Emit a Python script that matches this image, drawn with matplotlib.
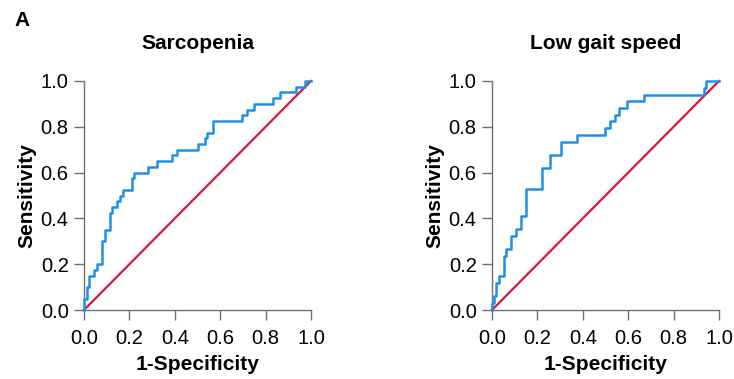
import matplotlib.pyplot as plt

plt.rcParams['font.family'] = ['Liberation Sans', 'DejaVu Sans']

# ROC - Sarcopenia
fpr_sarc = [0, 0.0, 0.012, 0.024, 0.046, 0.056, 0.079, 0.091, 0.115, 0.125, 0.147,
            0.159, 0.171, 0.210, 0.221, 0.284, 0.321, 0.387, 0.409, 0.5, 0.531,
            0.544, 0.568, 0.696, 0.718, 0.751, 0.832, 0.865, 0.932, 0.972, 1.0]
tpr_sarc = [0, 0.05, 0.1, 0.15, 0.175, 0.2, 0.3, 0.35, 0.425, 0.45, 0.475,
            0.5, 0.525, 0.575, 0.6, 0.625, 0.65, 0.675, 0.7, 0.725, 0.75,
            0.775, 0.825, 0.85, 0.875, 0.9, 0.925, 0.95, 0.975, 1.0, 1.0]

# ROC - Low gait speed
fpr_gait = [0, 0.0, 0.007, 0.018, 0.029, 0.051, 0.060, 0.084, 0.104, 0.126, 0.148,
            0.222, 0.254, 0.306, 0.373, 0.498, 0.520, 0.540, 0.561, 0.595, 0.670,
            0.932, 0.943, 1.0]
tpr_gait = [0, 0.029, 0.059, 0.118, 0.147, 0.235, 0.265, 0.324, 0.353, 0.412, 0.529,
            0.618, 0.676, 0.735, 0.765, 0.794, 0.824, 0.853, 0.882, 0.912, 0.941,
            0.971, 1.0, 1.0]

titulos = ["Sarcopenia", "Low gait speed"]
ticks = [0.0, 0.2, 0.4, 0.6, 0.8, 1.0]

fig = plt.figure(figsize=(7.34, 3.79), dpi=100)
ax1 = fig.add_axes([84 / 734, 69 / 379, 227 / 734, 229 / 379])
ax2 = fig.add_axes([492 / 734, 69 / 379, 227 / 734, 229 / 379])

curvas = [(fpr_sarc, tpr_sarc), (fpr_gait, tpr_gait)]

for ax, (fx, fy), titulo in zip([ax1, ax2], curvas, titulos):
    ax.plot([0, 1], [0, 1], color="#dc143c", linewidth=1.6, clip_on=False, zorder=2)
    ax.step(fx, fy, where="post", color="#1e90e8", linewidth=1.8, clip_on=False, zorder=3)
    ax.set_xlim(0, 1)
    ax.set_ylim(0, 1)
    ax.set_xticks(ticks)
    ax.set_yticks(ticks)
    ax.set_xticklabels(["%.1f" % t for t in ticks])
    ax.set_yticklabels(["%.1f" % t for t in ticks])
    for lado in ["top", "right"]:
        ax.spines[lado].set_visible(False)
    for lado in ["left", "bottom"]:
        ax.spines[lado].set_color("#707070")
        ax.spines[lado].set_linewidth(1.0)
    ax.tick_params(direction="out", length=7, width=1.0, color="#707070",
                   labelsize=14.5, pad=4)
    ax.tick_params(axis="x", pad=7)
    ax.set_xlabel("1-Specificity", fontsize=15, fontweight="bold", labelpad=5)
    ax.set_ylabel("Sensitivity", fontsize=15, fontweight="bold", labelpad=3)
    ax.set_title(titulo, fontsize=15, fontweight="bold", pad=23)

fig.text(14 / 734, 1 - 20 / 379, "A", fontsize=15, fontweight="bold", va="center")

plt.savefig("out.png", dpi=100)
